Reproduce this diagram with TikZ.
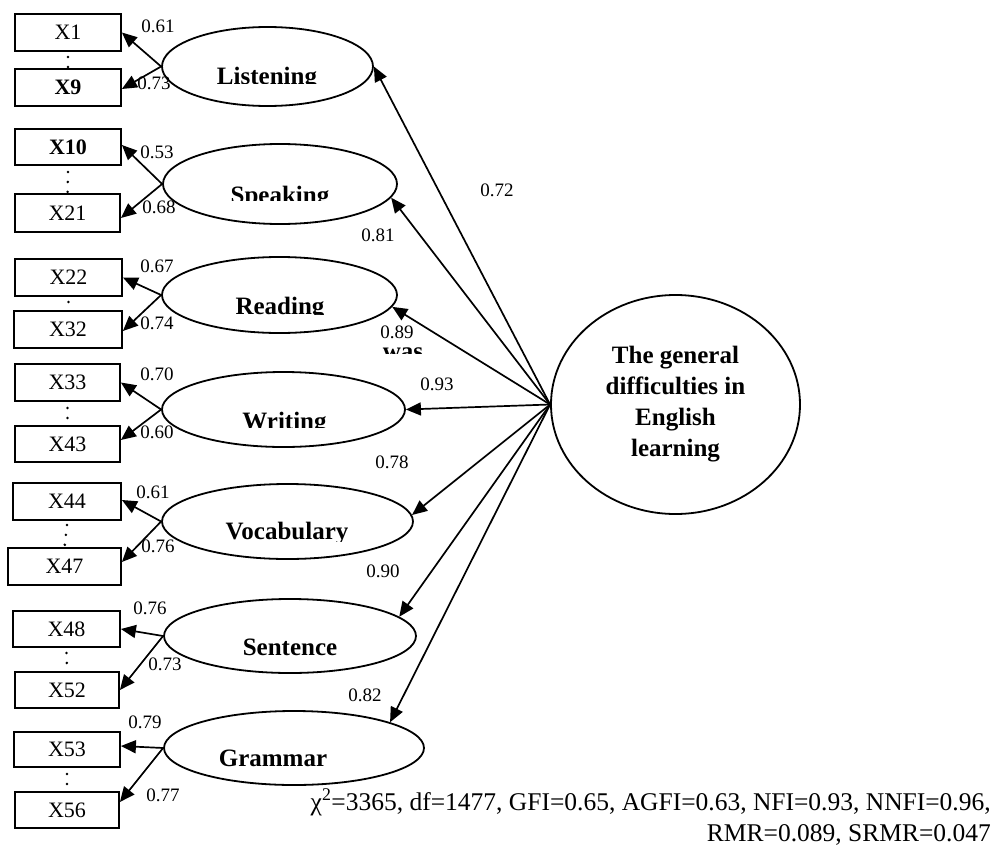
\documentclass[tikz,border=0pt]{standalone}
\usepackage{fontspec}
\setmainfont{Liberation Serif}
\usetikzlibrary{arrows.meta,shapes.geometric}
\begin{document}
\begin{tikzpicture}[x=1pt,y=-1pt,
  obs/.style={draw, line width=1.8pt, rectangle, inner sep=0pt, font=\fontsize{22}{26}\selectfont},
  lat/.style={draw, line width=1.8pt, ellipse, inner sep=0pt},
  latlbl/.style={anchor=base, inner sep=0pt, font=\bfseries\fontsize{25}{30}\selectfont},
  coef/.style={font=\fontsize{19}{22}\selectfont, inner sep=0pt},
  arr/.style={line width=1.7pt, -{Triangle[length=15pt,width=13pt]}},
  vdots/.style={line width=2.8pt, line cap=round, dash pattern=on 0pt off 10pt},
  fit/.style={font=\fontsize{25.5}{30}\selectfont, inner sep=0pt, anchor=base east},
]
\useasboundingbox (0,0) rectangle (994,846);

% observed variables
\node[obs, minimum width=106pt, minimum height=37pt] (x1)  at (68,32.5)  {X1};
\node[obs, minimum width=106pt, minimum height=37pt] (x9)  at (68,87.5)  {\textbf{X9}};
\node[obs, minimum width=106pt, minimum height=36pt] (x10) at (68,147)   {\textbf{X10}};
\node[obs, minimum width=105pt, minimum height=38pt] (x21) at (67.5,213) {X21};
\node[obs, minimum width=107pt, minimum height=37pt] (x22) at (68.5,277.5) {X22};
\node[obs, minimum width=108pt, minimum height=37pt] (x32) at (68,329.5) {X32};
\node[obs, minimum width=105pt, minimum height=37pt] (x33) at (67.5,382.5) {X33};
\node[obs, minimum width=105pt, minimum height=36pt] (x43) at (67.5,444) {X43};
\node[obs, minimum width=108pt, minimum height=37pt] (x44) at (67,501.5) {X44};
\node[obs, minimum width=113pt, minimum height=37pt] (x47) at (64.5,566.5) {X47};
\node[obs, minimum width=107pt, minimum height=36pt] (x48) at (66.5,629) {X48};
\node[obs, minimum width=104pt, minimum height=36pt] (x52) at (67,690) {X52};
\node[obs, minimum width=106pt, minimum height=35pt] (x53) at (67,749.5) {X53};
\node[obs, minimum width=104pt, minimum height=36pt] (x56) at (67,810) {X56};

% dotted continuation marks
\draw[vdots] ([yshift=-5pt]x1.south)  -- ([yshift=-1pt]x9.north);
\draw[vdots] ([yshift=-6pt]x10.south) -- ([yshift=-1pt]x21.north);
\draw[vdots] ([yshift=-5pt]x22.south) -- ([yshift=-1pt]x32.north);
\draw[vdots] ([yshift=-6pt]x33.south) -- ([yshift=-1pt]x43.north);
\draw[vdots] ([yshift=-4pt]x44.south) -- ([yshift=-1pt]x47.north);
\draw[vdots] ([yshift=-5pt]x48.south) -- ([yshift=-1pt]x52.north);
\draw[vdots] ([yshift=-6pt]x53.south) -- ([yshift=-1pt]x56.north);

% latent variables
\node[lat, minimum width=211pt, minimum height=79pt] (listen) at (267.5,66.5) {};
\node[lat, minimum width=234pt, minimum height=80pt] (speak)  at (280,184) {};
\node[lat, minimum width=235pt, minimum height=76pt] (read)   at (279.5,295) {};
\node[lat, minimum width=243pt, minimum height=75pt] (write)  at (283.5,409.5) {};
\node[lat, minimum width=251pt, minimum height=75pt] (vocab)  at (287.5,521.5) {};
\node[lat, minimum width=252pt, minimum height=74pt] (sent)   at (290,636) {};
\node[lat, minimum width=260pt, minimum height=74pt] (gram)   at (294,748) {};
\node[lat, minimum width=249pt, minimum height=219pt, align=center,
      font=\bfseries\fontsize{25}{31}\selectfont] (big) at (675.5,404.5)
      {The general\\difficulties in\\English\\learning};

% latent labels (clipped as in the original)
\begin{scope}
  \clip (150,40) rectangle (400,83.5);
  \node[latlbl] (listenlbl) at (267,84.5) {Listening};
\end{scope}
\begin{scope}
  \clip (150,160) rectangle (400,200);
  \node[latlbl] (speaklbl) at (280,203.5) {Speaking};
\end{scope}
\begin{scope}
  \clip (150,270) rectangle (400,314);
  \node[latlbl] (readlbl) at (280,314.5) {Reading};
\end{scope}
\begin{scope}
  \clip (150,390) rectangle (400,427);
  \node[latlbl] (writelbl) at (284.5,429.5) {Writing};
\end{scope}
\begin{scope}
  \clip (150,500) rectangle (420,541.5);
  \node[latlbl] (vocablbl) at (287,539.8) {Vocabulary};
\end{scope}
\node[latlbl] (sentlbl) at (290,655) {Sentence};
\node[latlbl] (gramlbl) at (273,766.5) {Grammar};
\begin{scope}
  \clip (360,346) rectangle (450,353);
  \node[latlbl, text height=12pt, text depth=0pt] (waslbl) at (403,359.5) {was};
\end{scope}

% loadings on indicators
\draw[arr] (listen.west) -- (x1.east);
\draw[arr] (listen.west) -- ([yshift=-1.5pt]x9.east);
\draw[arr] (speak.west) -- ([yshift=2pt]x10.east);
\draw[arr] (speak.west) -- ([yshift=-5pt]x21.east);
\draw[arr] (read.west) -- (x22.east);
\draw[arr] (read.west) -- ([yshift=-1.5pt]x32.east);
\draw[arr] (write.west) -- (x33.east);
\draw[arr] (write.west) -- ([yshift=4pt]x43.east);
\draw[arr] (vocab.west) -- ([yshift=1.5pt]x44.east);
\draw[arr] (vocab.west) -- ([yshift=4.5pt]x47.east);
\draw[arr] (sent.west) -- (x48.east);
\draw[arr] (sent.west) -- (x52.east);
\draw[arr] (gram.west) -- ([yshift=3.5pt]x53.east);
\draw[arr] (gram.west) -- ([yshift=8pt]x56.east);

\node[coef] (c1)  at (158,26)  {0.61};
\node[coef] (c2)  at (154,83)  {0.73};
\node[coef] (c3)  at (157,152) {0.53};
\node[coef] (c4)  at (159,207) {0.68};
\node[coef] (c5)  at (157,266) {0.67};
\node[coef] (c6)  at (157,323) {0.74};
\node[coef] (c7)  at (157,374) {0.70};
\node[coef] (c8)  at (157,432) {0.60};
\node[coef] (c9)  at (153,492) {0.61};
\node[coef] (c10) at (158,546) {0.76};
\node[coef] (c11) at (150,608) {0.76};
\node[coef] (c12) at (165,664) {0.73};
\node[coef] (c13) at (145,722) {0.79};
\node[coef] (c14) at (163,795) {0.77};

% second-order loadings
\draw[arr] (big.west) -- (listen.east);
\draw[arr] (big.west) -- (speak.-7);
\draw[arr] (big.west) -- (read.-6);
\draw[arr] (big.west) -- (write.east);
\draw[arr] (big.west) -- (vocab.3);
\draw[arr] (big.west) -- (sent.10);
\draw[arr] (big.west) -- (gram.15);

\node[coef] (g1) at (497,190) {0.72};
\node[coef] (g2) at (378,235) {0.81};
\node[coef] (g3) at (397,332) {0.89};
\node[coef] (g4) at (437,384) {0.93};
\node[coef] (g5) at (392,462) {0.78};
\node[coef] (g6) at (383,571) {0.90};
\node[coef] (g7) at (365,695) {0.82};

% fit indices
\node[fit] (fit1) at (991,810) {χ\textsuperscript{2}=3365, df=1477, GFI=0.65, AGFI=0.63, NFI=0.93, NNFI=0.96,};
\node[fit] (fit2) at (991,841) {RMR=0.089, SRMR=0.047};
\end{tikzpicture}
\end{document}
